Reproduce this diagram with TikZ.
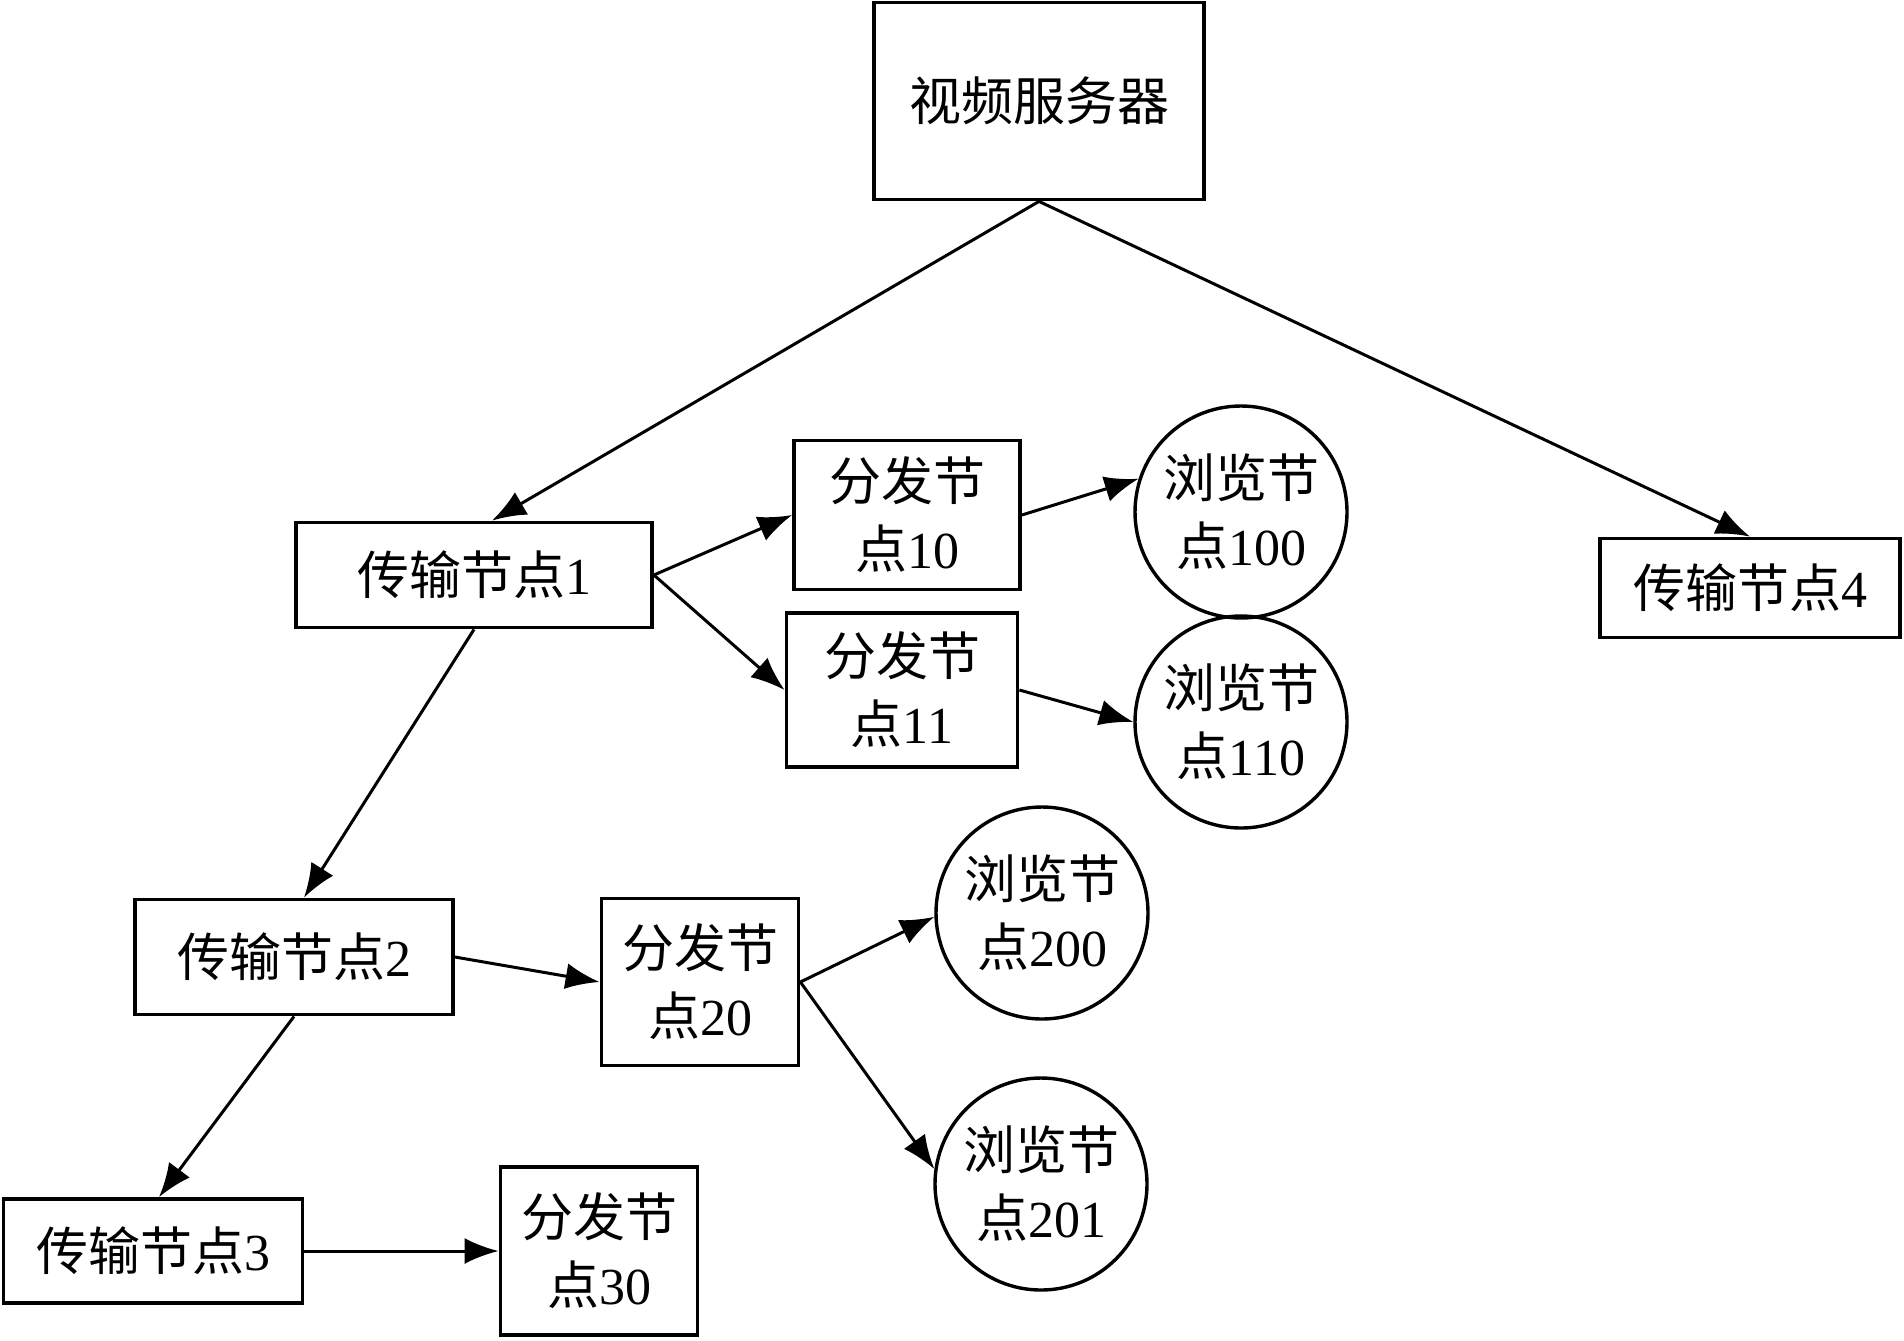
\documentclass[tikz,border=0pt]{standalone}
\usepackage{fontspec}
\setmainfont{Liberation Serif}
\newfontfamily\cjk{Noto Sans CJK SC}
\usetikzlibrary{arrows.meta,calc}
\begin{document}
\begin{tikzpicture}[x=0.5pt,y=-0.5pt,
  every node/.style={font=\fontsize{26pt}{34pt}\selectfont, inner sep=0pt, align=center},
  boxnode/.style={draw, line width=1.9pt, rectangle},
  circnode/.style={draw, line width=1.7pt, circle, minimum size=106pt},
  conn/.style={line width=1.5pt, -{Latex[length=17pt,width=13pt]}}]
\useasboundingbox (0,0) rectangle (1904,1340);
\fill[white] (0,0) rectangle (1904,1340);
% nodes
\node[boxnode, minimum width=165pt, minimum height=98.5pt] (srv) at (1039,101) {{\cjk 视频服务器}};
\node[boxnode, minimum width=178pt, minimum height=52.5pt] (t1) at (474,575) {{\cjk 传输节点}1};
\node[boxnode, minimum width=150pt, minimum height=49.5pt] (t4) at (1750,588) {{\cjk 传输节点}4};
\node[boxnode, minimum width=159pt, minimum height=57.5pt] (t2) at (294,957) {{\cjk 传输节点}2};
\node[boxnode, minimum width=149.5pt, minimum height=52pt] (t3) at (153,1251) {{\cjk 传输节点}3};
\node[boxnode, minimum width=113pt, minimum height=74.5pt] (d10) at (907,515) {{\cjk 分发节}\\{\cjk 点}10};
\node[boxnode, minimum width=115.5pt, minimum height=77pt] (d11) at (902,690) {{\cjk 分发节}\\{\cjk 点}11};
\node[boxnode, minimum width=98.5pt, minimum height=83.5pt] (d20) at (700,982) {{\cjk 分发节}\\{\cjk 点}20};
\node[boxnode, minimum width=98.5pt, minimum height=84pt] (d30) at (599,1251) {{\cjk 分发节}\\{\cjk 点}30};
\node[circnode] (b100) at (1241,512) {{\cjk 浏览节}\\{\cjk 点}100};
\node[circnode] (b110) at (1241,722) {{\cjk 浏览节}\\{\cjk 点}110};
\node[circnode] (b200) at (1042,913) {{\cjk 浏览节}\\{\cjk 点}200};
\node[circnode] (b201) at (1041,1184) {{\cjk 浏览节}\\{\cjk 点}201};
% connectors
\draw[conn] (srv.south) -- ($(t1.north)+(18,0)$);
\draw[conn] (srv.south) -- (t4.north);
\draw[conn] (t1.east) -- (d10.west);
\draw[conn] (t1.east) -- (d11.west);
\draw[conn] (d10.east) -- (b100.162);
\draw[conn] (d11.east) -- (b110.west);
\draw[conn] (t1.south) -- ($(t2.north)+(10,0)$);
\draw[conn] (t2.east) -- (d20.west);
\draw[conn] (d20.east) -- (b200.182);
\draw[conn] (d20.east) -- (b201.172);
\draw[conn] (t2.south) -- ($(t3.north)+(6,0)$);
\draw[conn] (t3.east) -- (d30.west);
\end{tikzpicture}
\end{document}
